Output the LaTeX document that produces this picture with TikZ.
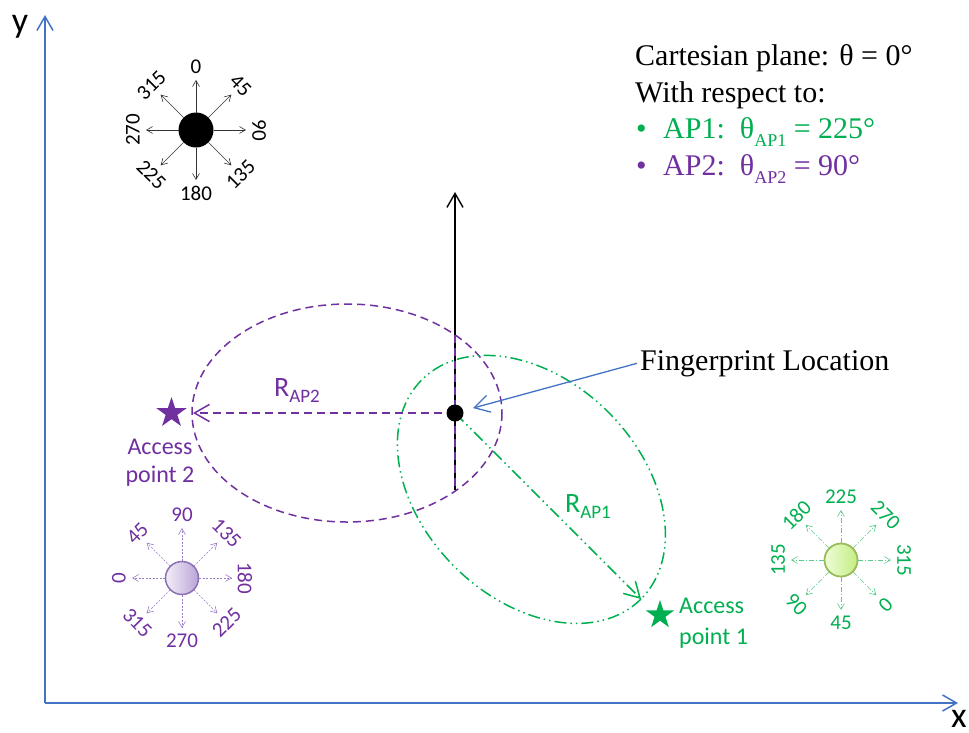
\documentclass[tikz,border=0pt]{standalone}
\usepackage{fontspec}
\setmainfont{Liberation Serif}
\newfontfamily\calib{Carlito}
\usetikzlibrary{arrows.meta,shapes.geometric,calc}
\definecolor{axisblue}{RGB}{68,114,196}
\definecolor{appurple}{RGB}{112,48,160}
\definecolor{litpurple}{RGB}{155,125,200}
\definecolor{apgreen}{RGB}{0,176,80}
\definecolor{litgreen}{RGB}{90,205,140}
\tikzset{
  openhead/.style={-{Straight Barb[length=#1,width=1.15*#1]}},
  cmparrow/.style={line width=0.6pt, openhead=6pt},
  cmplbl/.style={font=\calib\fontsize{21}{21}\selectfont, inner sep=0pt},
  serifbig/.style={font=\fontsize{30}{36}\selectfont, inner sep=0pt, anchor=base west},
  aplbl/.style={font=\calib\fontsize{24}{28}\selectfont, inner sep=0pt},
  rlbl/.style={font=\calib\fontsize{28}{28}\selectfont, inner sep=0pt},
  starshape/.style={star, star points=5, star point ratio=2.6, inner sep=0pt, draw=none},
  purpdash/.style={appurple, line width=1.5pt, dash pattern=on 8pt off 5pt},
  greendash/.style={apgreen, line width=1.5pt, dash pattern=on 12pt off 4pt on 1.5pt off 4pt on 1.5pt off 4pt},
}
\newcommand\subAP[1]{\raisebox{-8pt}{\fontsize{18}{18}\selectfont #1}}
\newcommand\subR[1]{\raisebox{-6pt}{\fontsize{19}{19}\selectfont #1}}
\begin{document}
\begin{tikzpicture}[x=1pt,y=-1pt]
\useasboundingbox (0,0) rectangle (969,732);
\fill[white] (0,0) rectangle (969,732);

% axes
\coordinate (O) at (45,703);
\coordinate (ytip) at (45,15);
\coordinate (xtip) at (958,703);
\draw[axisblue, line width=1.5pt, openhead=14pt] (O) -- (ytip);
\draw[axisblue, line width=1.5pt, openhead=14pt] (O) -- (xtip);
\node[font=\calib\fontsize{36}{36}\selectfont, inner sep=0pt] (ylab) at (20,27) {y};
\node[font=\calib\fontsize{36}{36}\selectfont, inner sep=0pt] (xlab) at (959,719) {x};

% black compass
\node[circle, fill=black, minimum size=35pt, inner sep=0pt] (bc) at (196,130) {};
\foreach \p/\t/\r in {0/0/0,45/45/-45,90/90/-90,135/135/45,180/180/0,225/225/-45,270/270/90,315/315/45}{
  \draw[cmparrow, black!80] ($(bc)+(\p-90:17.5)$) -- ($(bc)+(\p-90:50)$);
  \node[cmplbl, rotate=\r] at ($(bc)+(\p-90:63)$) {\t};
}

% purple compass
\node[circle, draw=litpurple!90!black, line width=1.5pt, left color=appurple!8, right color=litpurple!70, minimum size=33pt, inner sep=0pt] (pc) at (182,578) {};
\foreach \p/\t/\r in {0/90/0,45/135/-45,90/180/-90,135/225/45,180/270/0,225/315/-45,270/0/90,315/45/45}{
  \draw[cmparrow, litpurple, dash pattern=on 2pt off 1.5pt] ($(pc)+(\p-90:17)$) -- ($(pc)+(\p-90:50)$);
  \node[cmplbl, appurple, rotate=\r] at ($(pc)+(\p-90:63)$) {\t};
}

% green compass
\node[circle, draw={rgb,255:red,155;green,187;blue,89}, line width=1.8pt, left color={rgb,255:red,238;green,252;blue,215}, right color={rgb,255:red,196;green,238;blue,130}, minimum size=33pt, inner sep=0pt] (gc) at (841,560) {};
\foreach \p/\t/\r in {0/225/0,45/270/-45,90/315/-90,135/0/45,180/45/0,225/90/-45,270/135/90,315/180/45}{
  \draw[cmparrow, litgreen, dash pattern=on 5pt off 2pt on 1pt off 2pt] ($(gc)+(\p-90:17)$) -- ($(gc)+(\p-90:50)$);
  \node[cmplbl, apgreen, rotate=\r] at ($(gc)+(\p-90:63)$) {\t};
}

% fingerprint geometry
\coordinate (fpc) at (455,413);
\coordinate (pcen) at (347,413);
\coordinate (gcen) at (531.4,489.4);
\coordinate (p2edge) at (193,413);
\coordinate (g1edge) at (641,599);
\coordinate (vtop) at (455,192);
\coordinate (vbot) at (455,490);
\coordinate (pchordtop) at (455,335);
\coordinate (pchordbot) at (455,491);

\draw[purpdash] (pcen) ellipse [x radius=155, y radius=109];
\draw[greendash, rotate around={-45:(gcen)}] (gcen) ellipse [x radius=155, y radius=109];

\draw[black, line width=1.4pt, openhead=14pt] (vbot) -- (vtop);
\draw[purpdash, line width=1.2pt] (pchordtop) -- (pchordbot);

\draw[purpdash, openhead=15pt] (fpc) -- (p2edge);
\draw[greendash, openhead=15pt] (fpc) -- (g1edge);

\node[circle, fill=black, minimum size=17pt, inner sep=0pt] (dot) at (fpc) {};

% labels
\node[rlbl, appurple] (rap2) at (297,391) {R\subR{AP2}};
\node[rlbl, apgreen] (rap1) at (588,507) {R\subR{AP1}};

% access points
\node[starshape, fill=appurple, minimum size=32pt] (ap2) at (171.5,413) {};
\node[aplbl, appurple, align=center, font=\calib\fontsize{24}{28}\selectfont] (ap2t) at (160,463) {Access\\point 2};
\node[starshape, fill=apgreen, minimum size=30pt] (ap1) at (660,615) {};
\node[aplbl, apgreen, align=left, anchor=west, font=\calib\fontsize{24}{31}\selectfont] (ap1t) at (679,623) {Access\\point 1};

% fingerprint label
\node[serifbig, inner sep=3pt] (fpl) at (637,370) {Fingerprint Location};
\draw[axisblue, line width=1.3pt, openhead=15pt, shorten >=10pt] (fpl.west) -- (dot);

% top-right text
\node[serifbig] (l1) at (635,65) {Cartesian plane: θ = 0°};
\node[serifbig] (l2) at (635,102) {With respect to:};
\node[serifbig, apgreen] (b1) at (636,138) {•};
\node[serifbig, apgreen] (l3) at (663,138) {AP1:\ \ θ\subAP{AP1} = 225°};
\node[serifbig, appurple] (b2) at (636,175) {•};
\node[serifbig, appurple] (l4) at (663,175) {AP2:\ \ θ\subAP{AP2} = 90°};
\end{tikzpicture}
\end{document}
